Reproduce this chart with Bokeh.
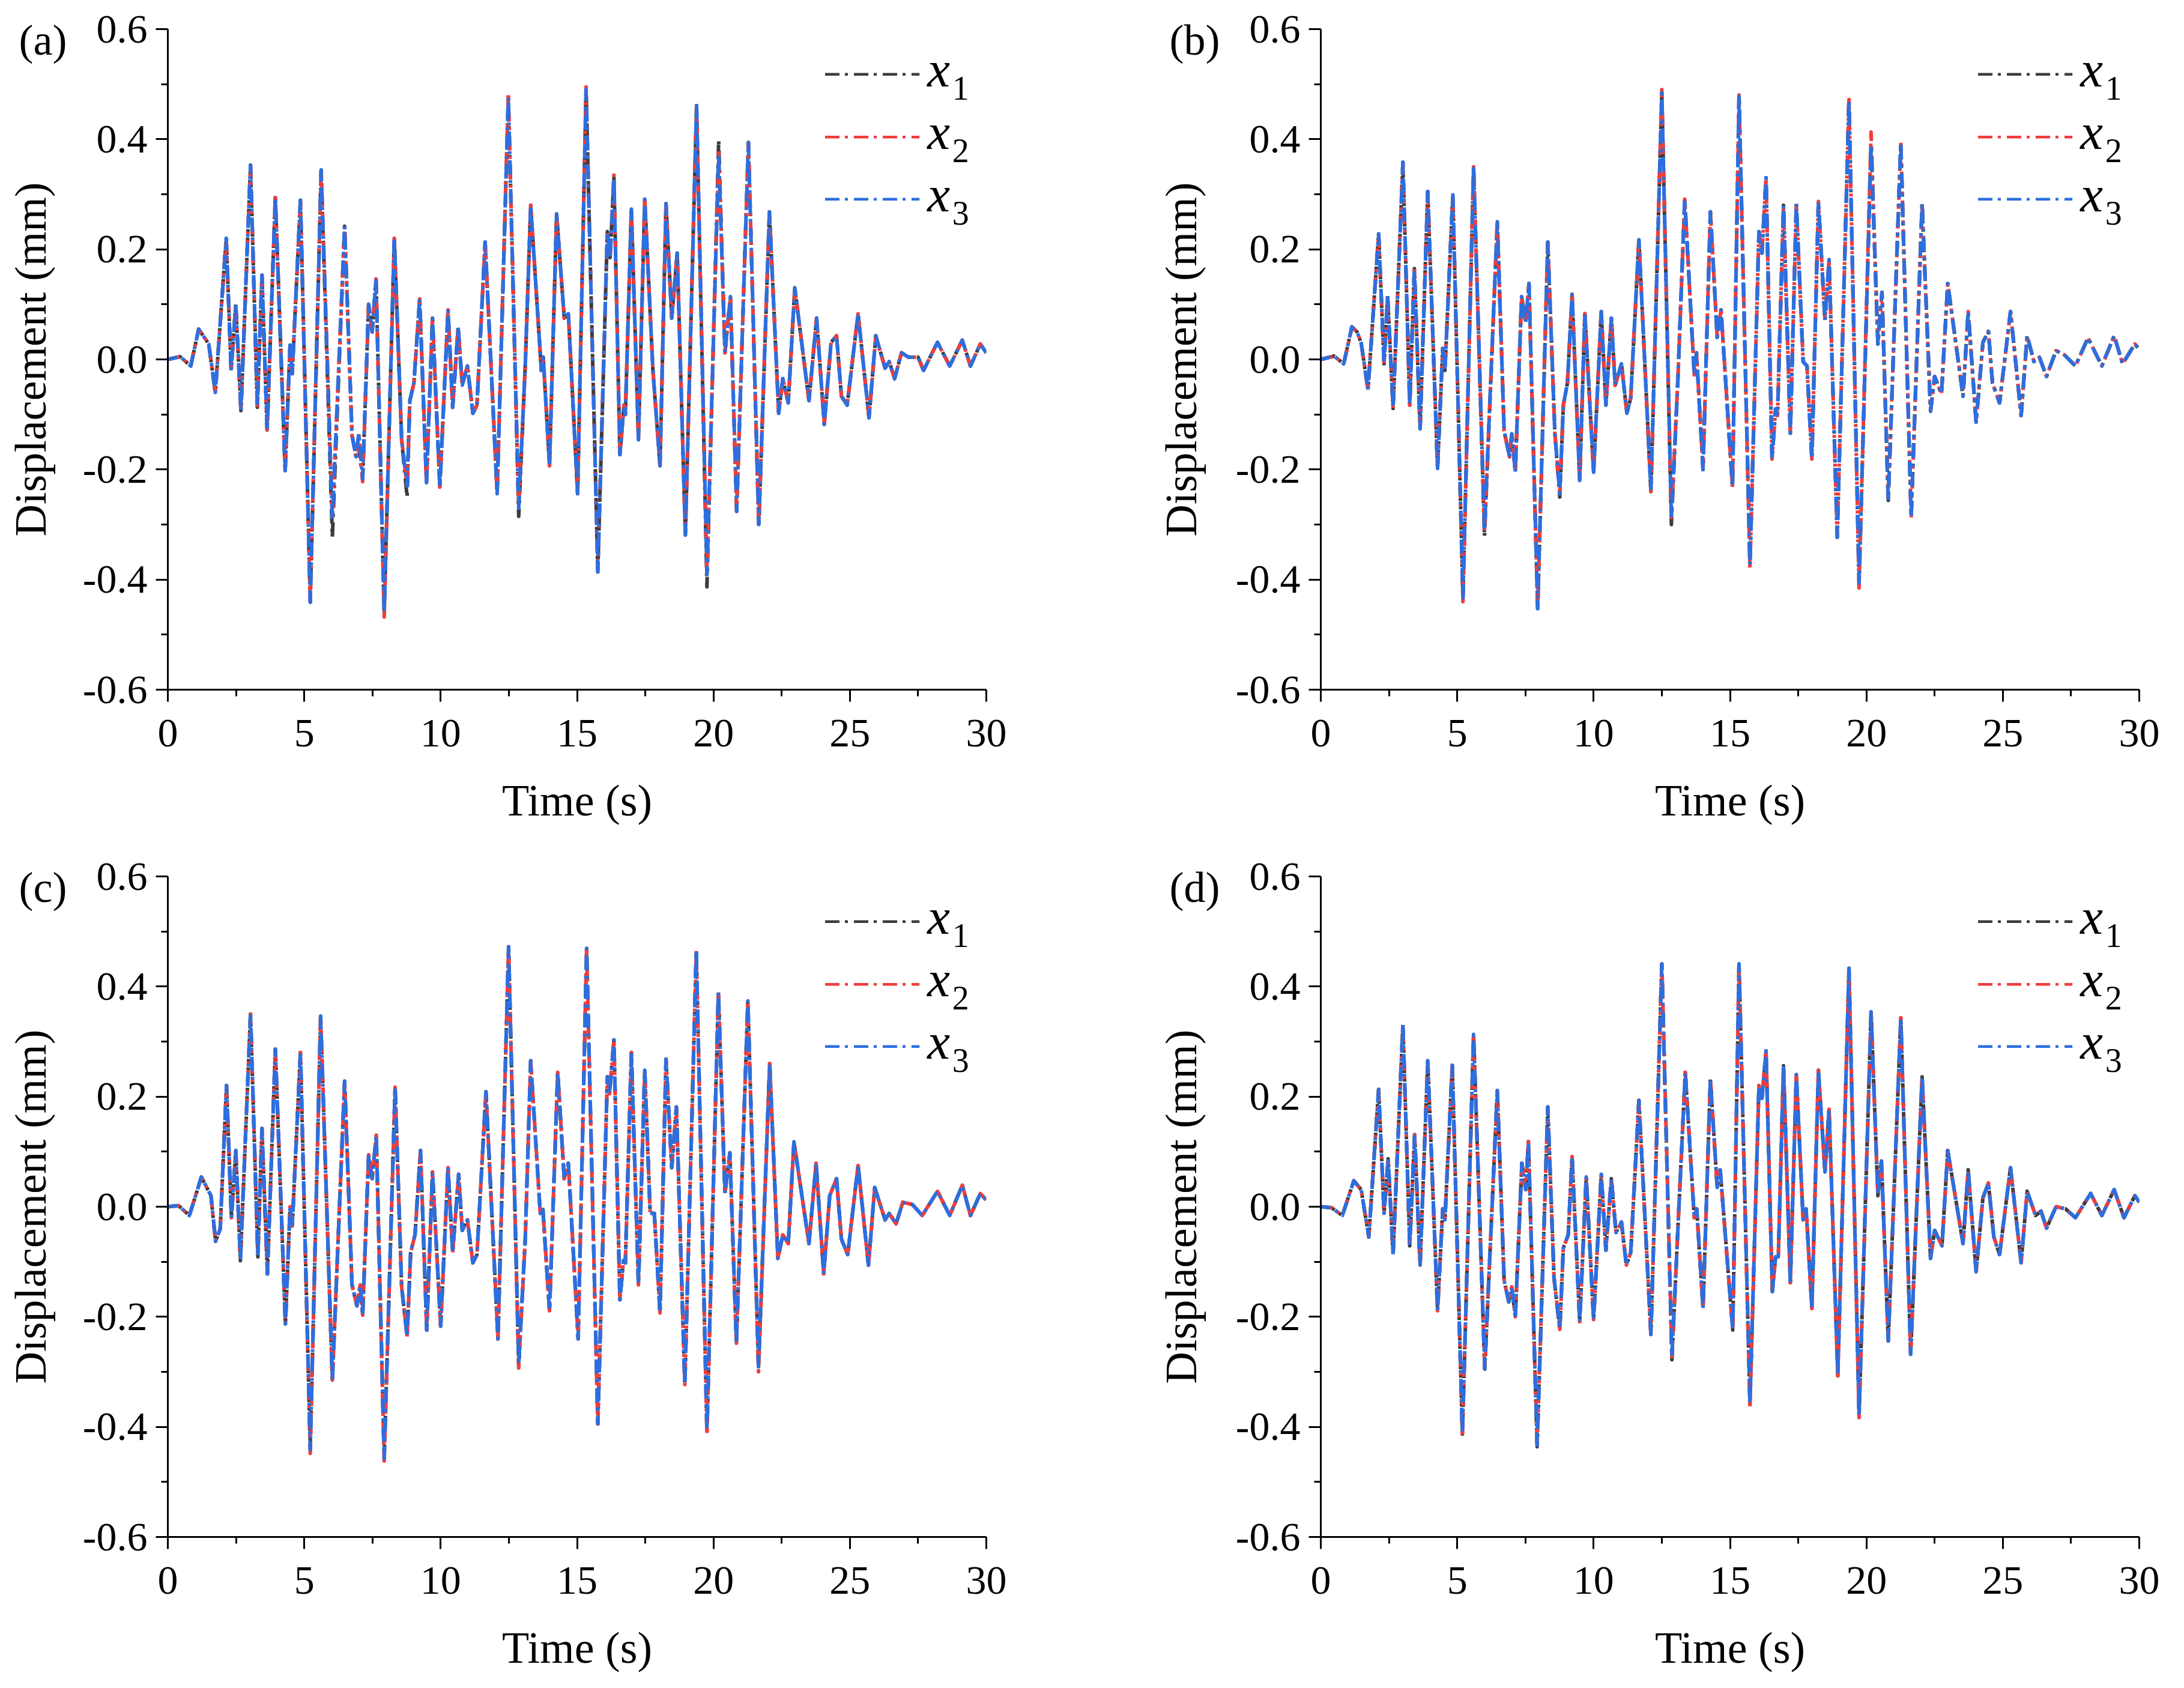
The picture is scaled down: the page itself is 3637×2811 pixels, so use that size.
from bokeh.plotting import figure
from bokeh.models import Range1d, NumeralTickFormatter, FixedTicker, LinearAxis
from bokeh.layouts import column, row
from bokeh.core.properties import value
from bokeh.embed import file_html
from bokeh.resources import INLINE

# ---- data (time in s, displacement in mm) ----
# x3 is the base curve of each panel; x1 / x2 only differ at a few extrema
t_a = [0, 0.45, 0.84, 1.13, 1.5, 1.74, 2.14, 2.32, 2.49, 2.68,
       3.03, 3.28, 3.45, 3.64, 3.94, 4.3, 4.48, 4.56, 4.86, 5.22,
       5.62, 6.03, 6.48, 6.75, 6.9, 7.0, 7.14, 7.36, 7.49, 7.63,
       7.93, 8.3, 8.57, 8.77, 8.87, 9.02, 9.23, 9.48, 9.7, 9.97,
       10.27, 10.44, 10.64, 10.79, 10.98, 11.18, 11.33, 11.63, 12.07, 12.48,
       12.86, 13.1, 13.3, 13.69, 13.76, 13.99, 14.25, 14.53, 14.68, 15.02,
       15.33, 15.76, 16.11, 16.21, 16.35, 16.57, 16.72, 16.77, 16.99, 17.25,
       17.48, 17.78, 18.04, 18.26, 18.47, 18.67, 18.97, 19.38, 19.76, 20.19,
       20.42, 20.62, 20.85, 21.28, 21.66, 22.05, 22.39, 22.54, 22.74, 22.98,
       23.5, 23.78, 24.06, 24.31, 24.51, 24.69, 24.9, 25.3, 25.7, 25.95,
       26.29, 26.44, 26.64, 26.89, 27.15, 27.5, 27.7, 28.21, 28.66, 29.12,
       29.42, 29.78, 30.0]
x3_a = [0, 0.005, -0.012, 0.055, 0.028, -0.06, 0.22, -0.02, 0.10, -0.093,
        0.353, -0.087, 0.153, -0.128, 0.294, -0.202, 0.026, -0.026, 0.289, -0.441,
        0.344, -0.29, 0.242, -0.138, -0.177, -0.134, -0.217, 0.10, 0.05, 0.146,
        -0.46, 0.22, -0.146, -0.23, -0.075, -0.043, 0.11, -0.224, 0.075, -0.232,
        0.09, -0.087, 0.059, -0.047, -0.012, -0.098, -0.083, 0.213, -0.244, 0.476,
        -0.27, -0.012, 0.28, -0.02, 0.004, -0.193, 0.264, 0.075, 0.083, -0.244,
        0.49, -0.386, 0.232, 0.185, 0.33, -0.173, -0.083, -0.1, 0.273, -0.146,
        0.291, -0.02, -0.193, 0.283, 0.075, 0.193, -0.319, 0.461, -0.39, 0.375,
        0.012, 0.114, -0.276, 0.394, -0.3, 0.268, -0.098, -0.035, -0.079, 0.13,
        -0.075, 0.075, -0.118, 0.031, 0.043, -0.067, -0.083, 0.083, -0.106, 0.043,
        -0.016, -0.004, -0.035, 0.012, 0.004, 0.004, -0.02, 0.031, -0.012, 0.035,
        -0.012, 0.028, 0.012]
x1_a = {6.03: -0.323, 8.77: -0.25, 12.86: -0.285, 19.76: -0.413, 20.19: 0.398,
        21.66: -0.305, 7.0: -0.16}
x2_a = {7.93: -0.468, 15.33: 0.495, 3.64: -0.133, 7.14: -0.222, 16.35: 0.335,
        12.48: 0.482}

t_b = [0, 0.49, 0.84, 1.14, 1.33, 1.48, 1.73, 2.12, 2.32, 2.45,
       2.65, 3.01, 3.26, 3.43, 3.64, 3.92, 4.28, 4.47, 4.55, 4.84,
       5.21, 5.6, 6.0, 6.47, 6.72, 6.92, 7.0, 7.13, 7.36, 7.51,
       7.63, 7.95, 8.32, 8.58, 8.76, 8.89, 9.04, 9.21, 9.49, 9.68,
       10.0, 10.28, 10.45, 10.65, 10.79, 11.02, 11.22, 11.36, 11.66, 12.1,
       12.5, 12.85, 13.09, 13.34, 13.69, 13.77, 14.01, 14.28, 14.53, 14.67,
       15.09, 15.33, 15.73, 16.06, 16.17, 16.32, 16.54, 16.67, 16.74, 16.96,
       17.21, 17.43, 17.68, 17.82, 18.0, 18.24, 18.48, 18.63, 18.93, 19.36,
       19.73, 20.17, 20.42, 20.57, 20.8, 21.26, 21.64, 22.04, 22.35, 22.5,
       22.75, 22.98, 23.54, 23.73, 24.02, 24.27, 24.47, 24.62, 24.88, 25.28,
       25.67, 25.89, 26.14, 26.34, 26.6, 26.95, 27.26, 27.66, 28.12, 28.63,
       29.08, 29.39, 29.84, 30.0]
x3_b = [0, 0.006, -0.008, 0.059, 0.05, 0.03, -0.055, 0.228, -0.008, 0.116,
        -0.089, 0.358, -0.083, 0.165, -0.126, 0.305, -0.198, 0.02, -0.02, 0.299,
        -0.433, 0.35, -0.311, 0.25, -0.13, -0.177, -0.135, -0.205, 0.114, 0.067,
        0.138, -0.453, 0.213, -0.134, -0.244, -0.083, -0.043, 0.118, -0.22, 0.083,
        -0.205, 0.087, -0.083, 0.075, -0.047, -0.008, -0.098, -0.07, 0.217, -0.24,
        0.484, -0.287, -0.035, 0.291, -0.028, 0.012, -0.2, 0.268, 0.04, 0.09,
        -0.232, 0.48, -0.374, 0.232, 0.193, 0.33, -0.181, -0.09, -0.102, 0.28,
        -0.134, 0.283, -0.004, -0.012, -0.181, 0.287, 0.071, 0.181, -0.323, 0.472,
        -0.406, 0.39, 0.028, 0.122, -0.256, 0.394, -0.287, 0.283, -0.094, -0.031,
        -0.063, 0.138, -0.067, 0.087, -0.114, 0.031, 0.051, -0.043, -0.079, 0.087,
        -0.102, 0.043, -0.004, 0.004, -0.031, 0.016, 0.008, -0.012, 0.039, -0.012,
        0.043, -0.008, 0.028, 0.018]
x1_b = {6.0: -0.322, 12.85: -0.3, 8.76: -0.25}
x2_b = {20.17: 0.413, 15.73: -0.38, 19.73: -0.415, 5.21: -0.44, 12.5: 0.49,
        7.95: -0.458}

t_c = [0, 0.39, 0.79, 1.23, 1.58, 1.75, 1.92, 2.15, 2.33, 2.49,
       2.66, 3.03, 3.3, 3.45, 3.65, 3.94, 4.31, 4.48, 4.56, 4.86,
       5.22, 5.6, 6.03, 6.48, 6.75, 6.93, 7.05, 7.14, 7.36, 7.49,
       7.64, 7.93, 8.33, 8.57, 8.77, 8.9, 9.06, 9.26, 9.49, 9.7,
       10.0, 10.27, 10.44, 10.66, 10.79, 10.98, 11.18, 11.33, 11.66, 12.1,
       12.49, 12.86, 13.1, 13.3, 13.65, 13.74, 13.99, 14.29, 14.53, 14.68,
       15.04, 15.35, 15.76, 16.11, 16.19, 16.35, 16.57, 16.7, 16.77, 16.99,
       17.25, 17.48, 17.68, 17.83, 18.04, 18.26, 18.47, 18.64, 18.95, 19.37,
       19.76, 20.18, 20.42, 20.6, 20.84, 21.26, 21.65, 22.06, 22.36, 22.54,
       22.74, 22.95, 23.5, 23.76, 24.04, 24.26, 24.51, 24.69, 24.92, 25.3,
       25.68, 25.91, 26.29, 26.44, 26.69, 26.94, 27.29, 27.65, 28.21, 28.66,
       29.12, 29.42, 29.78, 30.0]
x3_c = [0, 0.002, -0.016, 0.054, 0.02, -0.063, -0.04, 0.22, -0.02, 0.102,
        -0.098, 0.35, -0.091, 0.142, -0.122, 0.286, -0.213, 0.0, -0.035, 0.28,
        -0.441, 0.346, -0.315, 0.228, -0.142, -0.18, -0.142, -0.197, 0.094, 0.051,
        0.13, -0.457, 0.217, -0.146, -0.236, -0.083, -0.051, 0.102, -0.224, 0.063,
        -0.217, 0.071, -0.083, 0.059, -0.043, -0.024, -0.102, -0.087, 0.209, -0.24,
        0.472, -0.287, -0.059, 0.265, -0.012, 0.0, -0.189, 0.244, 0.051, 0.079,
        -0.24, 0.469, -0.394, 0.236, 0.205, 0.303, -0.169, -0.098, -0.102, 0.28,
        -0.142, 0.248, -0.012, -0.012, -0.193, 0.268, 0.071, 0.181, -0.323, 0.465,
        -0.406, 0.39, 0.024, 0.098, -0.248, 0.374, -0.291, 0.26, -0.094, -0.051,
        -0.067, 0.118, -0.067, 0.079, -0.122, 0.02, 0.051, -0.059, -0.087, 0.075,
        -0.106, 0.035, -0.024, -0.012, -0.031, 0.008, 0.004, -0.016, 0.028, -0.016,
        0.039, -0.016, 0.024, 0.012]
x1_c = {6.03: -0.318, 19.76: -0.41}
x2_c = {5.22: -0.448, 7.93: -0.462, 15.76: -0.40, 19.76: -0.415, 12.86: -0.293,
        21.65: -0.3}

t_d = [0, 0.4, 0.79, 1.21, 1.48, 1.76, 2.12, 2.32, 2.47, 2.65,
       3.01, 3.26, 3.44, 3.64, 3.92, 4.28, 4.47, 4.55, 4.82, 5.19,
       5.6, 6.01, 6.47, 6.72, 6.89, 7.0, 7.13, 7.37, 7.51, 7.61,
       7.93, 8.32, 8.55, 8.76, 8.89, 9.07, 9.21, 9.49, 9.73, 10.0,
       10.28, 10.45, 10.65, 10.82, 11.02, 11.2, 11.36, 11.66, 12.1, 12.5,
       12.87, 13.09, 13.36, 13.69, 13.78, 14.01, 14.28, 14.53, 14.64, 15.1,
       15.33, 15.73, 16.06, 16.17, 16.32, 16.55, 16.67, 16.77, 16.96, 17.21,
       17.43, 17.68, 17.79, 18.0, 18.24, 18.48, 18.63, 18.95, 19.36, 19.73,
       20.17, 20.42, 20.55, 20.8, 21.26, 21.62, 22.04, 22.35, 22.5, 22.77,
       22.98, 23.54, 23.73, 24.02, 24.27, 24.47, 24.67, 24.88, 25.28, 25.67,
       25.89, 26.2, 26.4, 26.6, 26.95, 27.3, 27.66, 28.22, 28.63, 29.08,
       29.44, 29.84, 30.0]
x3_d = [0, -0.002, -0.016, 0.047, 0.031, -0.055, 0.213, -0.012, 0.087, -0.087,
        0.331, -0.071, 0.131, -0.106, 0.265, -0.189, -0.004, -0.024, 0.257, -0.413,
        0.313, -0.295, 0.211, -0.134, -0.173, -0.146, -0.2, 0.079, 0.031, 0.118,
        -0.433, 0.181, -0.13, -0.223, -0.075, -0.051, 0.091, -0.209, 0.054, -0.205,
        0.059, -0.079, 0.051, -0.047, -0.028, -0.106, -0.083, 0.193, -0.232, 0.441,
        -0.272, -0.039, 0.244, -0.02, -0.004, -0.185, 0.232, 0.035, 0.067, -0.224,
        0.441, -0.358, 0.22, 0.197, 0.283, -0.154, -0.091, -0.091, 0.256, -0.138,
        0.24, -0.024, -0.004, -0.185, 0.248, 0.063, 0.177, -0.307, 0.433, -0.378,
        0.354, 0.02, 0.083, -0.244, 0.343, -0.268, 0.236, -0.094, -0.043, -0.071,
        0.102, -0.067, 0.067, -0.118, 0.016, 0.043, -0.055, -0.087, 0.071, -0.102,
        0.028, -0.016, -0.008, -0.039, 0.0, -0.004, -0.02, 0.024, -0.016, 0.031,
        -0.02, 0.02, 0.008]
x1_d = {7.93: -0.436, 12.87: -0.278}
x2_d = {5.19: -0.418, 15.73: -0.365, 19.73: -0.383, 12.5: 0.445}

series_names = ["1", "2", "3"]
colors = ["#3c3c3c", "#f03c3c", "#2b6fe0"]

x_ticks = [0, 5, 10, 15, 20, 25, 30]
x_minor = [2.5, 7.5, 12.5, 17.5, 22.5, 27.5]
y_ticks = [-0.6, -0.4, -0.2, 0.0, 0.2, 0.4, 0.6]
y_minor = [-0.5, -0.3, -0.1, 0.1, 0.3, 0.5]

FONT = "Liberation Serif"
DASH = "24 9 5 10"
LEG_Y = [0.518, 0.404, 0.291]
TAG_Y = 0.58


def make_panel(tag, t, x3, dev1, dev2, right, top, bottom):
    x1 = [dev1.get(ti, v) for ti, v in zip(t, x3)]
    x2 = [dev2.get(ti, v) for ti, v in zip(t, x3)]

    p = figure(frame_width=1363, frame_height=1100,
               min_border_left=279, min_border_right=right,
               min_border_top=top, min_border_bottom=bottom,
               x_range=Range1d(0, 30), y_range=Range1d(-0.6, 0.6),
               x_axis_label="Time (s)",
               output_backend="svg", toolbar_location=None)
    p.grid.visible = False
    p.outline_line_color = None
    p.background_fill_color = "white"
    p.border_fill_color = "white"

    xax = p.below[0]
    yax = p.left[0]
    xax.ticker = FixedTicker(ticks=x_ticks, minor_ticks=x_minor)
    yax.ticker = FixedTicker(ticks=y_ticks, minor_ticks=y_minor)
    xax.formatter = NumeralTickFormatter(format="0")
    yax.formatter = NumeralTickFormatter(format="0.0")
    for ax in (xax, yax):
        ax.axis_line_width = 3
        ax.axis_line_color = "black"
        ax.major_tick_line_width = 3
        ax.minor_tick_line_width = 3
        ax.major_tick_in = 0
        ax.major_tick_out = 20
        ax.minor_tick_in = 0
        ax.minor_tick_out = 11
        ax.major_label_text_font = FONT
        ax.major_label_text_font_size = "68px"
        ax.major_label_text_color = "black"
    xax.major_label_standoff = 30
    yax.major_label_standoff = 14
    xax.axis_label_text_font = FONT
    xax.axis_label_text_font_size = "74px"
    xax.axis_label_text_font_style = "normal"
    xax.axis_label_text_color = "black"
    xax.axis_label_standoff = 46

    # outer left axis: carries the panel tag at the top and the y title
    tag_ax = LinearAxis(ticker=FixedTicker(ticks=[TAG_Y]),
                        major_label_overrides={TAG_Y: tag},
                        axis_label="Displacement (mm)")
    tag_ax.axis_line_color = None
    tag_ax.major_tick_line_color = None
    tag_ax.minor_tick_line_color = None
    tag_ax.major_tick_out = 0
    tag_ax.major_tick_in = 0
    tag_ax.major_label_standoff = 23
    tag_ax.major_label_text_font = FONT
    tag_ax.major_label_text_font_size = "72px"
    tag_ax.major_label_text_color = "black"
    tag_ax.axis_label_text_font = FONT
    tag_ax.axis_label_text_font_size = "74px"
    tag_ax.axis_label_text_font_style = "normal"
    tag_ax.axis_label_text_color = "black"
    tag_ax.axis_label_standoff = -63
    p.add_layout(tag_ax, "left")

    for ys, c, off in zip([x1, x2, x3], colors, [0, 4, 8]):
        p.line(t, ys, line_color=c, line_width=6, line_dash=DASH,
               line_dash_offset=off, line_join="round")

    # hand-made legend: dash-dot sample, italic x with subscript
    for name, c, ly in zip(series_names, colors, LEG_Y):
        p.line([24.09, 27.55], [ly, ly], line_color=c, line_width=4.5,
               line_dash=DASH)
        p.text(x=[27.84], y=[ly + 0.01], text=["x"],
               text_font=value(FONT), text_font_style="italic",
               text_font_size="85px", text_color="black",
               text_baseline="alphabetic", text_align="left")
        p.text(x=[28.75], y=[ly - 0.025], text=[name],
               text_font=value(FONT), text_font_size="56px",
               text_color="black", text_baseline="alphabetic",
               text_align="left")
    return p


pa = make_panel("(a)", t_a, x3_a, x1_a, x2_a, right=278, top=48, bottom=264)
pb = make_panel("(b)", t_b, x3_b, x1_b, x2_b, right=51, top=48, bottom=264)
pc = make_panel("(c)", t_c, x3_c, x1_c, x2_c, right=278, top=47, bottom=236)
pd = make_panel("(d)", t_d, x3_d, x1_d, x2_d, right=51, top=47, bottom=236)

p = column(row(pa, pb), row(pc, pd))

open("out.html", "w").write(file_html(p, INLINE))
